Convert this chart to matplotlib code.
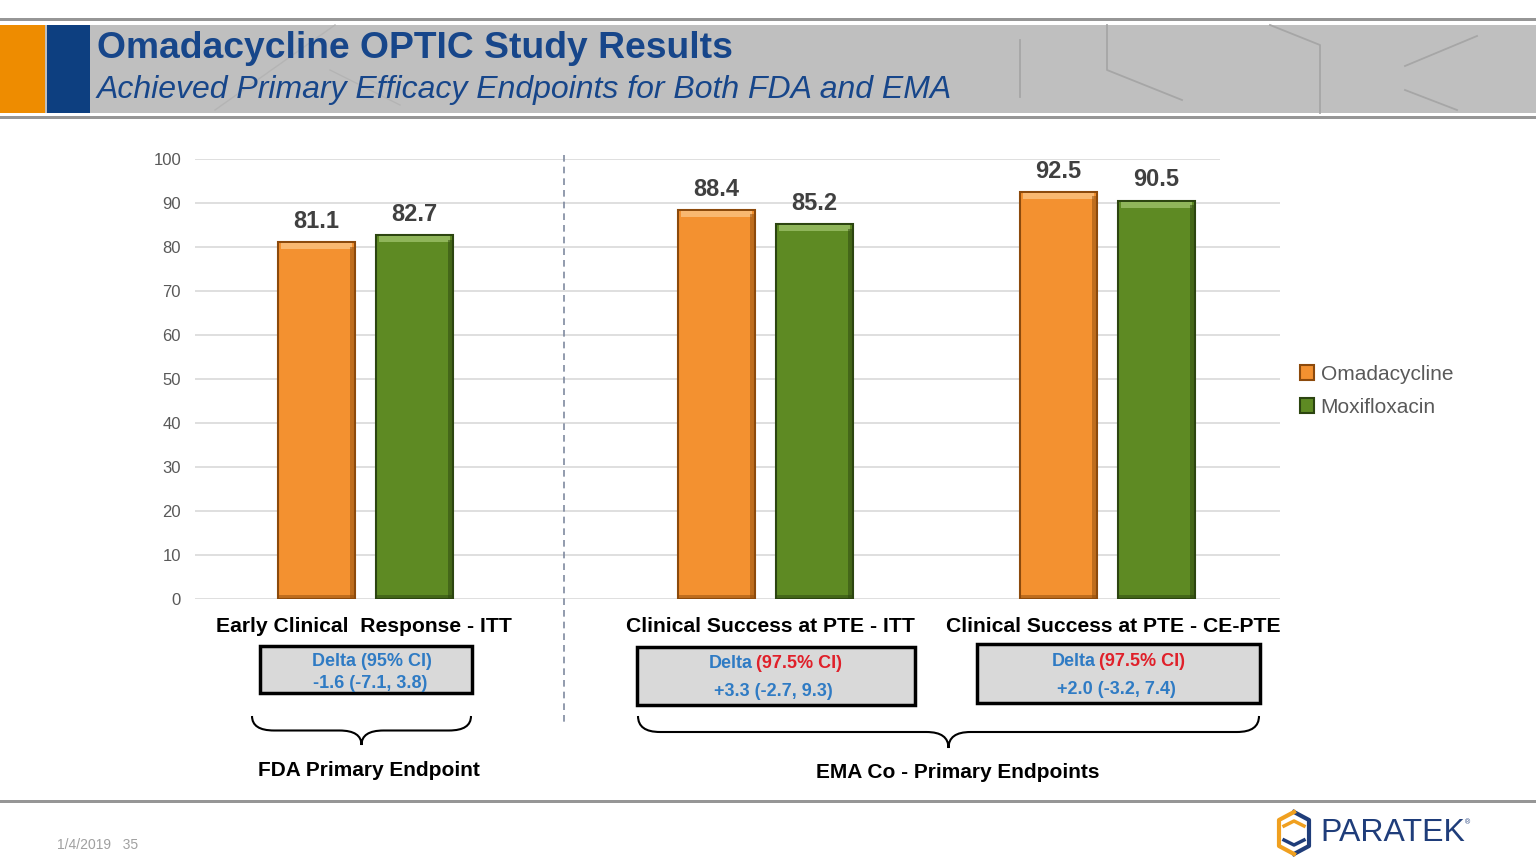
import matplotlib
matplotlib.use("Agg")
import matplotlib.pyplot as plt
from matplotlib.path import Path
from matplotlib.patches import PathPatch, Rectangle

plt.rcParams['font.family'] = ['Liberation Sans', 'DejaVu Sans']

# ---------------- data ----------------
categories = ["Early Clinical  Response - ITT",
              "Clinical Success at PTE - ITT",
              "Clinical Success at PTE - CE-PTE"]
omadacycline = [81.1, 88.4, 92.5]
moxifloxacin = [82.7, 85.2, 90.5]
series_names = ["Omadacycline", "Moxifloxacin"]
y_ticks = [0, 10, 20, 30, 40, 50, 60, 70, 80, 90, 100]
delta_head = ["Delta (95% CI)", "Delta", "Delta"]
delta_ci = ["", "(97.5% CI)", "(97.5% CI)"]
delta_vals = ["-1.6 (-7.1, 3.8)", "+3.3 (-2.7, 9.3)", "+2.0 (-3.2, 7.4)"]
group_labels = ["FDA Primary Endpoint", "EMA Co - Primary Endpoints"]
title = "Omadacycline OPTIC Study Results"
subtitle = "Achieved Primary Efficacy Endpoints for Both FDA and EMA"
footer = "1/4/2019   35"

# ---------------- layout ----------------
W, H = 1536, 864
fig = plt.figure(figsize=(W / 100, H / 100), dpi=100)
fig.patch.set_facecolor("white")

ax_l, ax_r, ax_b, ax_t = 195, 1280, 599, 159
ax = fig.add_axes([ax_l / W, 1 - ax_b / H, (ax_r - ax_l) / W, (ax_b - ax_t) / H])
ax.set_xlim(ax_l, ax_r)
ax.set_ylim(0, 100)
group_x = [365, 765, 1107]
label_x = [364, 770, 1113]
off = 49
bw = 77

ORANGE, ORANGE_D, ORANGE_L = "#f39130", "#8c4a0c", "#f9b870"
GREEN, GREEN_D, GREEN_L = "#5e8a23", "#2c4510", "#8fb55a"

for y in y_ticks:
    ax.hlines(y, ax_l, 1220 if y == 100 else ax_r, color="#d9d9d9", lw=1.2, zorder=0)

xo = [g - off for g in group_x]
xm = [g + off for g in group_x]
b1 = ax.bar(xo, omadacycline, width=bw, color=ORANGE, edgecolor=ORANGE_D, lw=1.5, zorder=2,
            label=series_names[0])
b2 = ax.bar(xm, moxifloxacin, width=bw, color=GREEN, edgecolor=GREEN_D, lw=1.5, zorder=2,
            label=series_names[1])
# bevel highlight on top
ax.bar(xo, [1.3] * 3, bottom=[v - 1.6 for v in omadacycline], width=bw - 6, color=ORANGE_L,
       lw=0, zorder=3)
ax.bar(xm, [1.3] * 3, bottom=[v - 1.6 for v in moxifloxacin], width=bw - 6, color=GREEN_L,
       lw=0, zorder=3)
# darker side shading
ax.bar([x + bw / 2 - 3 for x in xo], [v - 1 for v in omadacycline], width=4, color=ORANGE_D,
       alpha=0.5, lw=0, zorder=3)
ax.bar([x + bw / 2 - 3 for x in xm], [v - 1 for v in moxifloxacin], width=4, color=GREEN_D,
       alpha=0.5, lw=0, zorder=3)
ax.bar(xo, [0.8] * 3, width=bw - 2, color=ORANGE_D, alpha=0.5, lw=0, zorder=3)
ax.bar(xm, [0.8] * 3, width=bw - 2, color=GREEN_D, alpha=0.5, lw=0, zorder=3)

for x, v in list(zip(xo, omadacycline)) + list(zip(xm, moxifloxacin)):
    ax.annotate(f"{v:.1f}", (x, v), xytext=(0, 15), textcoords="offset points",
                ha="center", va="center", fontsize=17, fontweight="bold", color="#404040")

ax.set_yticks(y_ticks)
ax.set_yticklabels([str(t) for t in y_ticks], fontsize=12, color="#595959")
ax.set_xticks(label_x)
ax.set_xticklabels(categories, fontsize=15.2, fontweight="bold", color="black")
ax.tick_params(axis="both", length=0)
ax.tick_params(axis="y", pad=10)
ax.tick_params(axis="x", pad=13)
for s in ax.spines.values():
    s.set_visible(False)
ax.set_facecolor("none")

fig.legend(handles=[b1, b2], labels=series_names, loc="upper left",
           bbox_to_anchor=(1281 / W, 1 - 346 / H), frameon=False, fontsize=15,
           labelcolor="#595959", handlelength=0.7, handleheight=0.7, handletextpad=0.3,
           labelspacing=0.68)

# ---------------- overlay ----------------
ov = fig.add_axes([0, 0, 1, 1], zorder=-1)
ov.set_xlim(0, W)
ov.set_ylim(H, 0)
ov.axis("off")

ov2 = fig.add_axes([0, 0, 1, 1], zorder=5)
ov2.set_xlim(0, W)
ov2.set_ylim(H, 0)
ov2.axis("off")
ov2.patch.set_alpha(0)

# header
ov.add_patch(Rectangle((0, 18), W, 3, color="#969696", lw=0))
ov.add_patch(Rectangle((0, 25), W, 88, color="#bfbfbf", lw=0))
ov.add_patch(Rectangle((0, 116), W, 3, color="#969696", lw=0))
ov.add_patch(Rectangle((0, 25), 45, 88, color="#ee8c00", lw=0))
ov.add_patch(Rectangle((47, 25), 43, 88, color="#0d3f80", lw=0))
deco = [[(1020, 40), (1020, 97)],
        [(1107, 25), (1107, 70), (1182, 100)],
        [(1270, 25), (1320, 45), (1320, 113)],
        [(1405, 66), (1477, 36)],
        [(1405, 90), (1457, 110)]]
for seg in deco:
    xs, ys = zip(*seg)
    ov.plot(xs, ys, color="#a6a6a6", lw=1.3)
faint = [[(215, 110), (335, 25)], [(330, 70), (400, 105)]]
for seg in faint:
    xs, ys = zip(*seg)
    ov.plot(xs, ys, color="#b4b4b4", lw=1.0)
ov.text(97, 48, title, fontsize=26.8, fontweight="bold", color="#17468a", va="center", ha="left")
ov.text(97, 90, subtitle, fontsize=23, style="italic", color="#17468a", va="center", ha="left")

# dashed divider
ov2.plot([564, 564], [155, 725], color="#7f8aa0", lw=1.2, ls=(0, (4, 3)))

# delta boxes
boxes = [(260, 646, 212, 47), (637, 647, 278, 58), (977, 644, 283, 59)]
BLUE, RED = "#2f7bc4", "#e0202a"
for i, (bx, by, bwid, bh) in enumerate(boxes):
    ov2.add_patch(Rectangle((bx, by), bwid, bh, facecolor="#d9d9d9", edgecolor="black", lw=2.5))
line1_y = [661, 664, 661]
line2_y = [683, 691, 689]
cx = [372, 775, 1118]
for i in range(3):
    if delta_ci[i]:
        ov2.text(cx[i] - 22, line1_y[i], delta_head[i], fontsize=13, fontweight="bold", color=BLUE,
                 ha="right", va="center")
        ov2.text(cx[i] - 19, line1_y[i], delta_ci[i], fontsize=13, fontweight="bold", color=RED,
                 ha="left", va="center")
    else:
        ov2.text(cx[i], line1_y[i], delta_head[i], fontsize=13, fontweight="bold", color=BLUE,
                 ha="center", va="center")
    ov2.text(cx[i] - 2, line2_y[i], delta_vals[i], fontsize=13, fontweight="bold", color=BLUE,
             ha="center", va="center")


def brace(a, x0, x1, y0, ytip, r=22):
    xm_ = (x0 + x1) / 2
    ym = (y0 + ytip) / 2
    verts = [(x0, y0), (x0, ym), (x0 + r, ym), (xm_ - r, ym), (xm_, ym), (xm_, ytip),
             (xm_, ym), (xm_ + r, ym), (x1 - r, ym), (x1, ym), (x1, y0)]
    codes = [Path.MOVETO, Path.CURVE3, Path.CURVE3, Path.LINETO, Path.CURVE3, Path.CURVE3,
             Path.CURVE3, Path.CURVE3, Path.LINETO, Path.CURVE3, Path.CURVE3]
    a.add_patch(PathPatch(Path(verts, codes), fill=False, lw=1.5, edgecolor="black"))


brace(ov2, 252, 471, 716, 745)
brace(ov2, 638, 1259, 716, 748)
ov2.text(369, 771, group_labels[0], fontsize=15, fontweight="bold", ha="center", va="center")
ov2.text(958, 772, group_labels[1], fontsize=15, fontweight="bold", ha="center", va="center")

# footer
ov.add_patch(Rectangle((0, 800), W, 3, color="#969696", lw=0))
ov.text(57, 845, footer, fontsize=10, color="#a0a0a0", ha="left", va="center")
# logo
hx = [(1294, 812), (1309, 820), (1309, 846), (1294, 854)]
ov.plot(*zip(*hx), color="#1f3d7a", lw=3)
hx2 = [(1294, 812), (1279, 820), (1279, 846), (1294, 854)]
ov.plot(*zip(*hx2), color="#f0a020", lw=3)
ov.plot([1284, 1294, 1304], [826, 821, 826], color="#f0a020", lw=2.5)
ov.plot([1284, 1294, 1304], [840, 845, 840], color="#1f3d7a", lw=2.5)
ov.text(1320, 833, "PARATEK", fontsize=23, color="#1f3d7a", ha="left", va="center")
ov.text(1465, 823, "®", fontsize=5, color="#1f3d7a", ha="left", va="center")

fig.savefig("out.png", dpi=100)
